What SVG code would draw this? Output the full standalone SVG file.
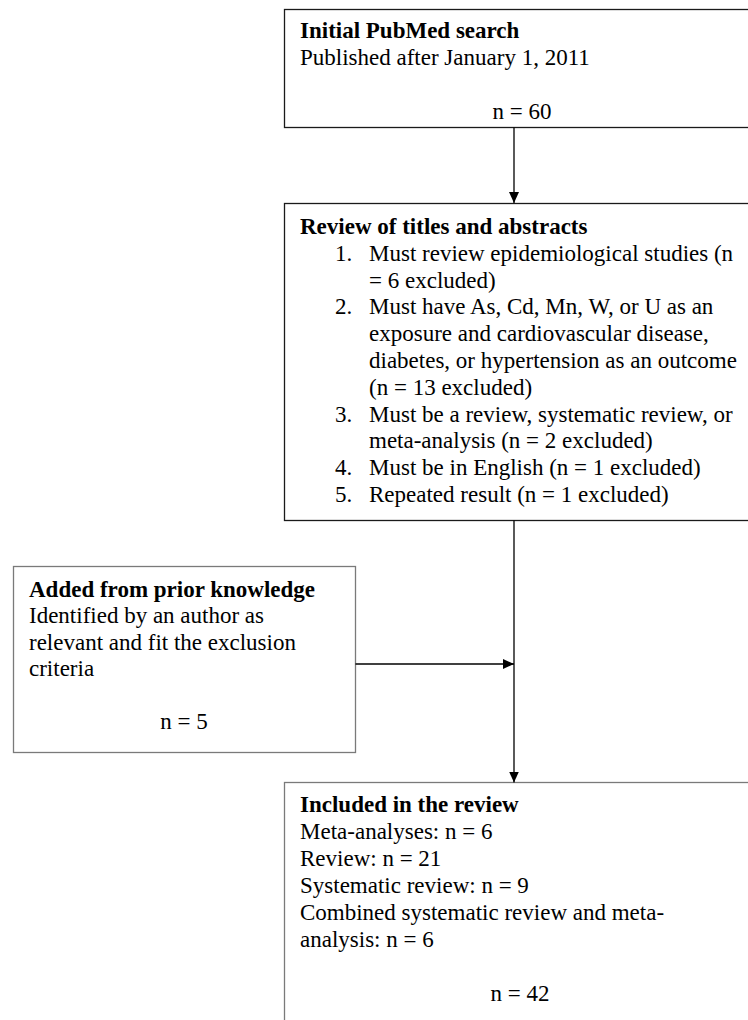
<svg xmlns="http://www.w3.org/2000/svg" width="748" height="1020" viewBox="0 0 748 1020">
  <style>
    text { font-family: "Liberation Serif", "Times New Roman", serif; font-size: 23px; fill: #000; }
    .b { font-weight: bold; }
    .c { text-anchor: middle; }
    .box { fill: #fff; stroke-width: 1.3; }
    .dark { stroke: #1a1a1a; }
    .gray { stroke: #7a7a7a; }
    .conn { stroke: #000; stroke-width: 1.3; fill: none; }
  </style>
  <defs>
    <marker id="ah" markerUnits="userSpaceOnUse" markerWidth="11" markerHeight="10" refX="11" refY="5" orient="auto">
      <path d="M0,0 L11,5 L0,10 z" fill="#000"/>
    </marker>
  </defs>
  <rect width="748" height="1020" fill="#fff"/>

  <g id="initial-search">
    <rect class="box dark" x="284.5" y="9.5" width="480" height="118"/>
    <text class="b" x="300" y="38">Initial PubMed search</text>
    <text x="300" y="65">Published after January 1, 2011</text>
    <text class="c" x="522" y="119">n = 60</text>
  </g>

  <g id="review-titles">
    <rect class="box dark" x="284.5" y="203.5" width="480" height="317"/>
    <text class="b" x="300" y="234">Review of titles and abstracts</text>
    <text x="335" y="260.8">1.</text>
    <text x="369" y="260.8">Must review epidemiological studies (n</text>
    <text x="369" y="287.6">= 6 excluded)</text>
    <text x="335" y="314.4">2.</text>
    <text x="369" y="314.4">Must have As, Cd, Mn, W, or U as an</text>
    <text x="369" y="341.2">exposure and cardiovascular disease,</text>
    <text x="369" y="368">diabetes, or hypertension as an outcome</text>
    <text x="369" y="394.8">(n = 13 excluded)</text>
    <text x="335" y="421.6">3.</text>
    <text x="369" y="421.6">Must be a review, systematic review, or</text>
    <text x="369" y="448.4">meta-analysis (n = 2 excluded)</text>
    <text x="335" y="475.2">4.</text>
    <text x="369" y="475.2">Must be in English (n = 1 excluded)</text>
    <text x="335" y="502">5.</text>
    <text x="369" y="502">Repeated result (n = 1 excluded)</text>
  </g>

  <g id="prior-knowledge">
    <rect class="box gray" x="13.5" y="566.5" width="342" height="186"/>
    <text class="b" x="29" y="596.7">Added from prior knowledge</text>
    <text x="29" y="623">Identified by an author as</text>
    <text x="29" y="649.5">relevant and fit the exclusion</text>
    <text x="29" y="676">criteria</text>
    <text class="c" x="184" y="729">n = 5</text>
  </g>

  <g id="included">
    <rect class="box gray" x="284.5" y="782.5" width="480" height="260"/>
    <text class="b" x="300" y="812">Included in the review</text>
    <text x="300" y="839">Meta-analyses: n = 6</text>
    <text x="300" y="866">Review: n = 21</text>
    <text x="300" y="893">Systematic review: n = 9</text>
    <text x="300" y="920">Combined systematic review and meta-</text>
    <text x="300" y="947">analysis: n = 6</text>
    <text class="c" x="520" y="1001">n = 42</text>
  </g>

  <g id="connectors">
    <line class="conn" x1="514" y1="127.5" x2="514" y2="203" marker-end="url(#ah)"/>
    <line class="conn" x1="514" y1="520.5" x2="514" y2="782.5" marker-end="url(#ah)"/>
    <line class="conn" x1="355.5" y1="664" x2="514" y2="664" marker-end="url(#ah)"/>
  </g>
</svg>
